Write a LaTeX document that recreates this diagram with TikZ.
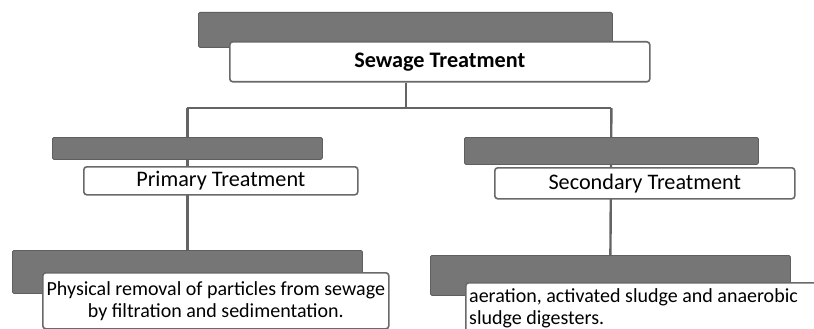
\documentclass[tikz,border=0pt]{standalone}
\usepackage{fontspec}
\setmainfont{Carlito}
\usetikzlibrary{backgrounds}
\definecolor{barfill}{RGB}{118,118,118}
\definecolor{barline}{RGB}{95,95,95}
\definecolor{boxline}{RGB}{105,105,105}
\definecolor{connline}{RGB}{100,100,100}
\tikzset{
  graybar/.style={draw=barline, line width=0.8pt, fill=barfill, rounded corners=1.5pt, inner sep=0pt, anchor=north west},
  wbox/.style={draw=boxline, line width=1.6pt, fill=white, rounded corners=3pt, inner sep=0pt, anchor=north west, text=black},
  conn/.style={draw=connline, line width=2.4pt},
  bigtext/.style={font=\fontsize{22.2}{26}\selectfont},
  smalltext/.style={font=\fontsize{20}{22}\selectfont}
}
\begin{document}
\begin{tikzpicture}[x=1pt,y=-1pt]
\clip (0,0) rectangle (814,329);
% top
\node[graybar, minimum width=414pt, minimum height=35pt] (tg) at (198,12) {};
\node[wbox, bigtext, minimum width=420pt, minimum height=40pt] (top) at (229,41) {\bfseries Sewage Treatment};
% primary
\node[graybar, minimum width=270pt, minimum height=22pt] (pg) at (52,137) {};
\node[wbox, bigtext, minimum width=274pt, minimum height=28pt] (pw) at (83,166) {Primary Treatment};
% secondary
\node[graybar, minimum width=294pt, minimum height=27pt] (sg) at (464,137) {};
\node[wbox, bigtext, minimum width=300pt, minimum height=31pt] (sw) at (494,167) {Secondary Treatment};
% bottom left
\node[graybar, minimum width=350pt, minimum height=43pt] (lg) at (12,250) {};
\node[wbox, smalltext, minimum width=346pt, minimum height=56pt, align=center] (lw) at (42,272) {Physical removal of particles from sewage\\by filtration and sedimentation.};
% bottom right
\node[graybar, minimum width=360pt, minimum height=40pt] (rg) at (430,255) {};
\node[wbox, minimum width=400pt, minimum height=80pt] (rw) at (465,282) {};
\node[smalltext, anchor=north west, align=left, inner sep=0pt] (rt) at (469,288) {aeration, activated sludge and anaerobic\\sludge digesters.};
% connectors
\coordinate (hy) at (0,108);
\coordinate (stem) at (406,0);
\begin{scope}[on background layer]
\fill[white] (0,0) rectangle (814,329);
\draw[conn] (top.south -| stem) -- (stem |- hy);
\draw[conn] (pg.north |- hy) -- (sg.north |- hy);
\draw[conn] (pg.north |- hy) -- (lg.north);
\draw[conn] (sg.north |- hy) -- (rg.north);
\end{scope}
\end{tikzpicture}
\end{document}
